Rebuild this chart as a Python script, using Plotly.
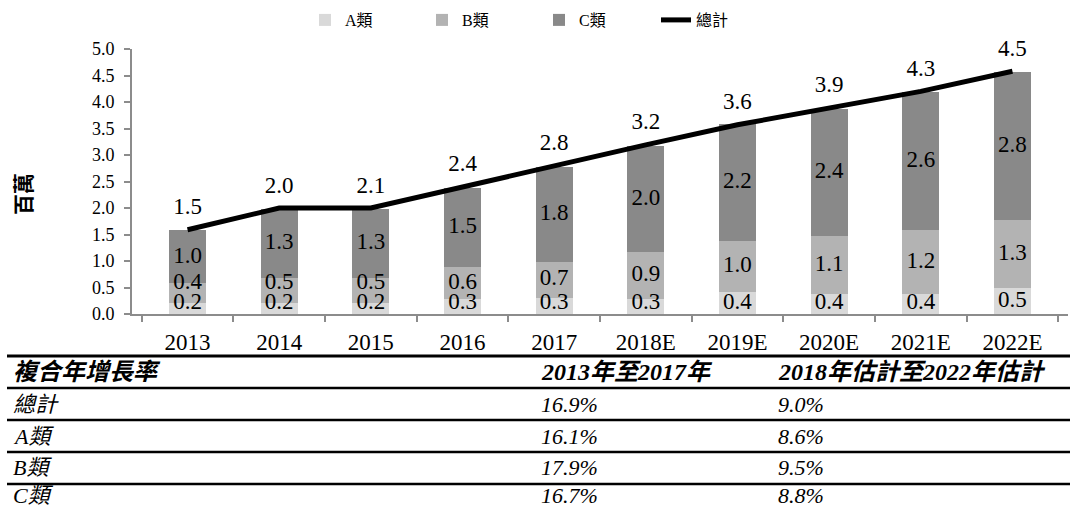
import plotly.graph_objects as go

# ---------------- data ----------------
years = ["2013", "2014", "2015", "2016", "2017", "2018E", "2019E", "2020E", "2021E", "2022E"]
class_a = [0.21, 0.21, 0.21, 0.29, 0.31, 0.29, 0.41, 0.38, 0.38, 0.50]
class_b = [0.37, 0.47, 0.47, 0.59, 0.68, 0.88, 0.97, 1.09, 1.20, 1.27]
class_c = [1.00, 1.30, 1.30, 1.50, 1.79, 2.00, 2.20, 2.40, 2.60, 2.80]
total = [1.59, 2.00, 2.00, 2.40, 2.80, 3.19, 3.57, 3.89, 4.20, 4.58]
total_labels = ["1.5", "2.0", "2.1", "2.4", "2.8", "3.2", "3.6", "3.9", "4.3", "4.5"]

series_names = ["A類", "B類", "C類", "總計"]
y_tick_vals = [0.0, 0.5, 1.0, 1.5, 2.0, 2.5, 3.0, 3.5, 4.0, 4.5, 5.0]

table_headers = ["複合年增長率", "2013年至2017年", "2018年估計至2022年估計"]
cagr_rows = ["總計", "A類", "B類", "C類"]
cagr_2013_2017 = ["16.9%", "16.1%", "17.9%", "16.7%"]
cagr_2018_2022 = ["9.0%", "8.6%", "9.5%", "8.8%"]

# ---------------- layout helpers ----------------
W, H = 1070, 510
L, R, T, B = 132, 1068, 49, 314
SERIF = "Liberation Serif, Times New Roman, Noto Sans CJK TC, serif"
LABEL_FLOOR = 0.2   # lowest label centre (keeps labels inside plot)
LABEL_GAP = 0.38    # minimum spacing between stacked labels


def px_x(p):
    return (p - L) / (R - L)


def px_y(p):
    return (B - p) / (B - T)


colors = ["#d9d9d9", "#b3b3b3", "#898989"]
segments = [class_a, class_b, class_c]

fig = go.Figure()
for name, vals, col in zip(series_names[:3], segments, colors):
    fig.add_trace(go.Bar(
        x=years, y=vals, name=name, marker=dict(color=col, line=dict(width=0)),
        hoverinfo="x+y",
    ))

fig.add_trace(go.Scatter(
    x=years, y=total, name=series_names[3], mode="lines",
    line=dict(color="black", width=5),
))

# segment labels drawn on top of all bars
prev_label = [None] * len(years)
base = [0.0] * len(years)
for vals in segments:
    ys, txt = [], []
    for i, v in enumerate(vals):
        centre = base[i] + v / 2
        y = max(centre, LABEL_FLOOR)
        if prev_label[i] is not None:
            y = max(y, prev_label[i] + LABEL_GAP)
        prev_label[i] = y
        base[i] += v
        ys.append(y)
        txt.append(f"{v:.1f}")
    fig.add_trace(go.Scatter(
        x=years, y=ys, mode="text", text=txt, textposition="middle center",
        textfont=dict(family=SERIF, size=23, color="black"),
        showlegend=False, hoverinfo="skip", cliponaxis=False,
    ))

fig.add_trace(go.Scatter(
    x=years, y=total, mode="markers+text", text=total_labels,
    textposition="top center", marker=dict(size=14, color="rgba(0,0,0,0)"),
    textfont=dict(family=SERIF, size=23, color="black"), showlegend=False,
    hoverinfo="skip", cliponaxis=False,
))

# ---------------- table below chart ----------------
annotations = []
col_x = [11, 539, 776]
header_y = 372
row_ys = [404, 436, 468, 496]
TFONT = 22
for cx, htxt in zip(col_x, table_headers):
    annotations.append(dict(
        x=px_x(cx), y=px_y(header_y), xref="paper", yref="paper",
        text="<b><i>" + htxt + "</i></b>", showarrow=False,
        xanchor="left", yanchor="middle",
        font=dict(family=SERIF, size=24, color="black"),
    ))
for ry, rname, v1, v2 in zip(row_ys, cagr_rows, cagr_2013_2017, cagr_2018_2022):
    for cx, txt in zip(col_x, [rname, v1, v2]):
        annotations.append(dict(
            x=px_x(cx), y=px_y(ry), xref="paper", yref="paper",
            text="<i>" + txt + "</i>", showarrow=False,
            xanchor="left", yanchor="middle",
            font=dict(family=SERIF, size=TFONT, color="black"),
        ))

# y-axis title
annotations.append(dict(
    x=px_x(24), y=px_y(194), xref="paper", yref="paper",
    text="<b>百萬</b>", textangle=-90, showarrow=False,
    xanchor="center", yanchor="middle",
    font=dict(family=SERIF, size=21, color="black"),
))

shapes = []
line_ys = [356, 388, 420, 452, 484]
for i, ly in enumerate(line_ys):
    shapes.append(dict(
        type="line", xref="paper", yref="paper",
        x0=px_x(7), x1=px_x(1070), y0=px_y(ly), y1=px_y(ly),
        line=dict(color="black", width=3 if i == 0 else 2.5),
    ))

fig.update_layout(
    width=W, height=H,
    margin=dict(l=L, r=W - R, t=T, b=H - B, pad=0),
    paper_bgcolor="white", plot_bgcolor="white",
    barmode="stack", bargap=0.594,
    font=dict(family=SERIF, color="black"),
    showlegend=True,
    legend=dict(
        orientation="h", x=px_x(305), xanchor="left",
        y=px_y(20), yanchor="middle",
        font=dict(family=SERIF, size=16, color="black"),
        entrywidth=72, entrywidthmode="pixels",
        traceorder="normal", bgcolor="rgba(0,0,0,0)",
    ),
    xaxis=dict(
        type="category", showline=True, linecolor="#8c8c8c", linewidth=2,
        ticks="outside", tickson="boundaries", ticklen=6, tickcolor="#8c8c8c",
        tickwidth=2, showgrid=False, ticklabelstandoff=6,
        tickfont=dict(family=SERIF, size=23, color="black"),
    ),
    yaxis=dict(
        range=[0, 5], tickvals=y_tick_vals, tickformat=".1f",
        showline=True, linecolor="#8c8c8c", linewidth=2,
        ticks="outside", ticklen=6, tickcolor="#8c8c8c", tickwidth=2,
        showgrid=False, zeroline=False, ticklabelstandoff=6,
        tickfont=dict(family=SERIF, size=18, color="black"),
    ),
    annotations=annotations,
    shapes=shapes,
)

fig.write_html(
    "out.html",
    config={"displayModeBar": False},
    post_script="document.body.style.margin='0';",
)
